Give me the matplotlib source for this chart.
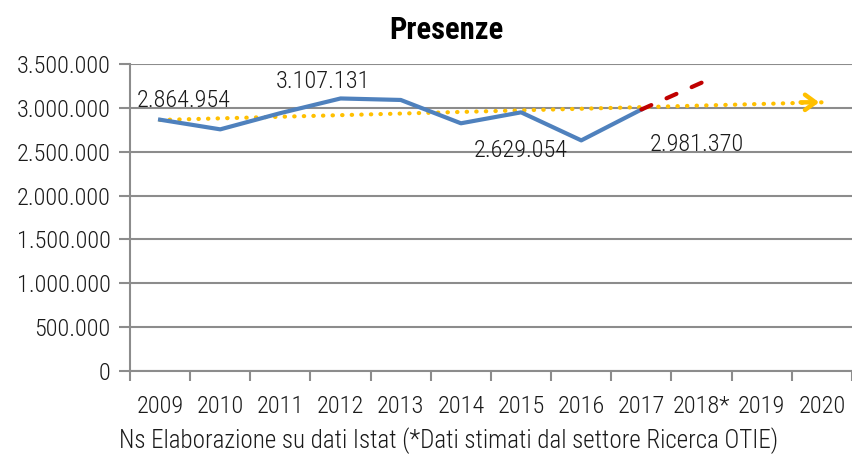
import numpy as np
import matplotlib.pyplot as plt
from matplotlib.ticker import FuncFormatter

plt.rcParams['font.family'] = ['Roboto Condensed', 'Archivo Narrow', 'DejaVu Sans']
plt.rcParams['font.weight'] = 'light'

# Data
years = ['2009', '2010', '2011', '2012', '2013', '2014', '2015', '2016',
         '2017', '2018*', '2019', '2020']
presenze = [2864954, 2755000, 2940000, 3107131, 3090000, 2824000, 2949000,
            2629054, 2981370]
stima_years = ['2017', '2018*']
stima = [2981370, 3287000]
trend_years = ['2009', '2020']
trend = [2862000, 3063000]
labelled = {'2009': 2864954, '2012': 3107131, '2016': 2629054, '2017': 2981370}

x = np.arange(len(years))
idx = {y: i for i, y in enumerate(years)}
txt_c = '#1a1a1a'
fs = 17.5

fig = plt.figure(figsize=(8.53, 4.58), dpi=100)
ax = fig.add_axes([130 / 853, 1 - 371 / 458, 722 / 853, 307 / 458])

grid_c = '#8c8c8c'
ax.set_ylim(0, 3500000)
ax.set_xlim(-0.5, len(years) - 0.5)
ax.set_yticks(np.arange(0, 3500001, 500000))
ax.yaxis.grid(True, color=grid_c, lw=1.5)
ax.set_axisbelow(True)
ax.yaxis.set_major_formatter(FuncFormatter(lambda v, p: f'{int(v):,}'.replace(',', '.')))

# category boundaries as ticks, labels centred
ax.set_xticks(np.arange(-0.5, len(years)), labels=[])
ax.set_xticks(x, labels=years, minor=True)
ax.tick_params(axis='x', which='major', length=7, width=1.5, color=grid_c)
ax.tick_params(axis='x', which='minor', length=0, pad=17, labelsize=fs, labelcolor=txt_c)
ax.tick_params(axis='y', length=8, width=1.5, color=grid_c, labelsize=fs,
               labelcolor=txt_c, pad=6)
for s in ['top', 'right']:
    ax.spines[s].set_visible(False)
for s in ['left', 'bottom']:
    ax.spines[s].set_color(grid_c)
    ax.spines[s].set_linewidth(1.5)

# trend line with arrow
tx = [idx[y] for y in trend_years]
ax.plot(tx, trend, color='#FFC000', lw=3, linestyle=(0, (0.1, 2.2)),
        dash_capstyle='round', zorder=3)
ax.annotate('', xy=(tx[1], trend[1]), xytext=(tx[1] - 0.4, trend[1]),
            arrowprops=dict(arrowstyle='->,head_length=0.75,head_width=0.55',
                            color='#FFC000', lw=3.2, capstyle='round'), zorder=3)

# actual values
ax.plot(x[:len(presenze)], presenze, color='#4F81BD', lw=3, zorder=4)

# estimate
sx = [idx[y] for y in stima_years]
ax.plot(sx, stima, color='#C00000', lw=3, linestyle=(0, (2.6, 4)),
        dash_capstyle='round', zorder=5)

offsets = {'2009': (0.4, 220000), '2012': (-0.3, 190000),
           '2016': (-1.0, -110000), '2017': (0.93, -400000)}
for y, v in labelled.items():
    dx, dy = offsets[y]
    ax.text(idx[y] + dx, v + dy, f'{v:,}'.replace(',', '.'), ha='center',
            va='center', fontsize=fs, color=txt_c, zorder=6)

fig.text(446 / 853, 1 - 30 / 458, 'Presenze', ha='center', va='center',
         fontsize=22, fontweight='bold')
fig.text(449 / 853, 1 - 441 / 458,
         'Ns Elaborazione su dati Istat (*Dati stimati dal settore Ricerca OTIE)',
         ha='center', va='center', fontsize=18, color=txt_c)

fig.savefig('out.png', dpi=100)
